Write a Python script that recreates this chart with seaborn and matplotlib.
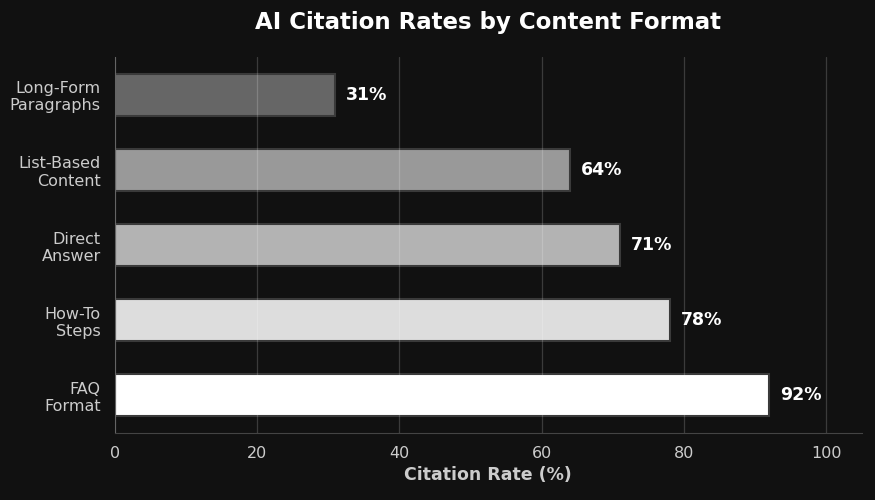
import matplotlib
matplotlib.use('Agg')
import matplotlib.pyplot as plt
import seaborn as sns
import pandas as pd

# Chart data
formats = ['Long-Form\nParagraphs', 'List-Based\nContent', 'Direct\nAnswer', 'How-To\nSteps', 'FAQ\nFormat']
rates = [31, 64, 71, 78, 92]
bar_colors = ['#666666', '#999999', '#b3b3b3', '#dddddd', '#ffffff']

df = pd.DataFrame({'Format': formats, 'Rate': rates})

bg = '#111111'
sns.set_style('dark')
plt.rcParams['font.family'] = ['DejaVu Sans']

fig = plt.figure(figsize=(8.75, 5), dpi=100, facecolor=bg)
ax = fig.add_axes([0.131, 0.134, 0.854, 0.752])
ax.set_facecolor(bg)

sns.barplot(data=df, x='Rate', y='Format', hue='Format', palette=bar_colors,
            legend=False, width=0.56, edgecolor='#3a3a3a', linewidth=1.5,
            ax=ax, zorder=2)

for i, v in enumerate(rates):
    ax.text(v + 1.5, i, f'{v}%', va='center', ha='left', color='white',
            fontsize=12.5, fontweight='bold', zorder=4)

ax.set_xlim(0, 105)
ax.set_xticks([0, 20, 40, 60, 80, 100])
ax.set_axisbelow(False)
ax.grid(axis='x', color='white', alpha=0.18, linewidth=0.9, zorder=3)
ax.grid(axis='y', visible=False)

ax.set_title('AI Citation Rates by Content Format', color='white',
             fontsize=16.5, fontweight='bold', pad=20)
ax.set_xlabel('Citation Rate (%)', color='#cccccc', fontsize=12.5,
              fontweight='bold', labelpad=4)
ax.set_ylabel('')

ax.tick_params(axis='both', colors='#888888', labelcolor='#cccccc',
               labelsize=11.5, length=4, width=1)
ax.tick_params(axis='y', pad=6)
ax.tick_params(axis='x', pad=5)
for side in ['top', 'right']:
    ax.spines[side].set_visible(False)
for side in ['left', 'bottom']:
    ax.spines[side].set_visible(True)
    ax.spines[side].set_color('#444444')

fig.savefig('out.png', dpi=100, facecolor=bg)
